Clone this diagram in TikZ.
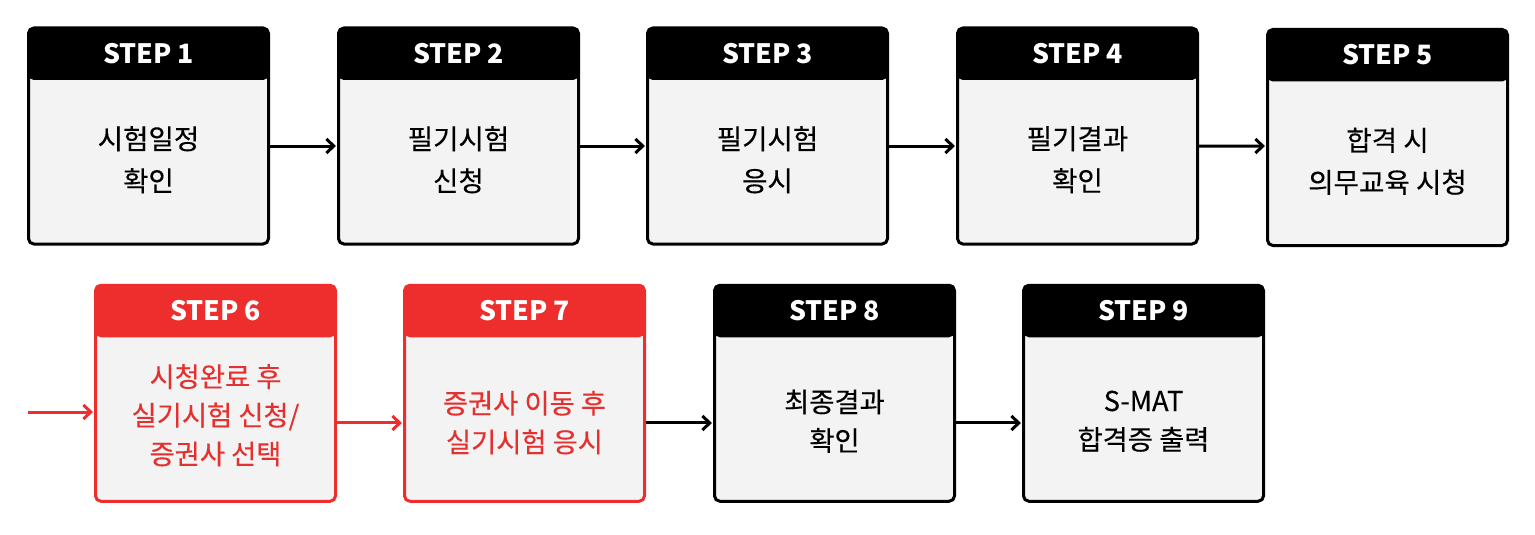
\documentclass[tikz,border=0pt]{standalone}
\usepackage{fontspec}
\setmainfont{Noto Sans CJK KR}
\newfontfamily\bodyfont[FakeBold=0.25]{Noto Sans CJK KR}
\usetikzlibrary{arrows.meta}
\definecolor{bodygray}{HTML}{F3F3F3}
\definecolor{stepred}{HTML}{EE2D2D}
\definecolor{textred}{HTML}{E4302E}
\begin{document}
\begin{tikzpicture}[x=0.75pt,y=-0.75pt,
  stepbox/.style={draw=#1, fill=bodygray, line width=2.25pt, rounded corners=4pt,
    minimum width=180pt, minimum height=162pt, inner sep=0pt,
    path picture={\fill[#1] (path picture bounding box.north west) rectangle ([yshift=-39pt]path picture bounding box.north east);}},
  head/.style={text=white, font=\bfseries\fontsize{20}{24}\selectfont, inner sep=0pt},
  bodyA/.style={align=center, inner sep=0pt, font=\bodyfont\fontsize{20.7}{31.5}\selectfont},
  bodyB/.style={align=center, inner sep=0pt, font=\bodyfont\fontsize{20.5}{29}\selectfont},
  flow/.style={line width=2.25pt, -{Straight Barb[length=5.5pt,width=10.5pt]}, shorten >=0.8pt},
]
\useasboundingbox (0,0) rectangle (1535,535);

% row 1
\node[stepbox=black] (s1) at (148.5,136) {};
\node[stepbox=black] (s2) at (458.5,136) {};
\node[stepbox=black] (s3) at (767.5,136) {};
\node[stepbox=black] (s4) at (1077.5,136) {};
\node[stepbox=black] (s5) at (1387.5,137.5) {};
% row 2
\node[stepbox=stepred] (s6) at (215.5,393.25) {};
\node[stepbox=stepred] (s7) at (524.5,393.25) {};
\node[stepbox=black] (s8) at (834.5,393.25) {};
\node[stepbox=black] (s9) at (1143.5,393.25) {};

% headers
\node[head] (h1) at ([yshift=-20pt]s1.north) {STEP 1};
\node[head] (h2) at ([yshift=-20pt]s2.north) {STEP 2};
\node[head] (h3) at ([yshift=-20pt]s3.north) {STEP 3};
\node[head] (h4) at ([yshift=-20pt]s4.north) {STEP 4};
\node[head] (h5) at ([yshift=-20pt]s5.north) {STEP 5};
\node[head] (h6) at ([yshift=-20pt]s6.north) {STEP 6};
\node[head] (h7) at ([yshift=-20pt]s7.north) {STEP 7};
\node[head] (h8) at ([yshift=-20pt]s8.north) {STEP 8};
\node[head] (h9) at ([yshift=-20pt]s9.north) {STEP 9};

% body texts
\node[bodyA] (t1) at ([yshift=-17.8pt]s1.center) {시험일정\\확인};
\node[bodyA] (t2) at ([yshift=-17.8pt]s2.center) {필기시험\\신청};
\node[bodyA] (t3) at ([yshift=-17.8pt]s3.center) {필기시험\\응시};
\node[bodyA] (t4) at ([yshift=-17.8pt]s4.center) {필기결과\\확인};
\node[bodyA] (t5) at ([yshift=-17.8pt]s5.center) {합격 시\\의무교육 시청};
\node[bodyB, text=textred] (t6) at ([yshift=-16.5pt]s6.center) {시청완료 후\\실기시험 신청/\\증권사 선택};
\node[bodyB, text=textred] (t7) at ([yshift=-22pt]s7.center) {증권사 이동 후\\실기시험 응시};
\node[bodyB] (t8) at ([yshift=-21pt]s8.center) {최종결과\\확인};
\node[bodyB] (t9) at ([yshift=-21pt]s9.center) {S-MAT\\합격증 출력};

% connectors
\draw[flow] ([yshift=-7.5pt]s1.east) -- ([yshift=-7.5pt]s2.west);
\draw[flow] ([yshift=-7.5pt]s2.east) -- ([yshift=-7.5pt]s3.west);
\draw[flow] ([yshift=-7.5pt]s3.east) -- ([yshift=-7.5pt]s4.west);
\draw[flow] ([yshift=-7.5pt]s4.east) -- ([yshift=-6.4pt]s5.west);
\coordinate (in) at (28,412);
\draw[flow, stepred] (in) -- (s6.west |- in);
\draw[flow, stepred] ([yshift=-22.3pt]s6.east) -- ([yshift=-22.3pt]s7.west);
\draw[flow] ([yshift=-22.3pt]s7.east) -- ([yshift=-22.3pt]s8.west);
\draw[flow] ([yshift=-22.3pt]s8.east) -- ([yshift=-22.3pt]s9.west);
\end{tikzpicture}
\end{document}
